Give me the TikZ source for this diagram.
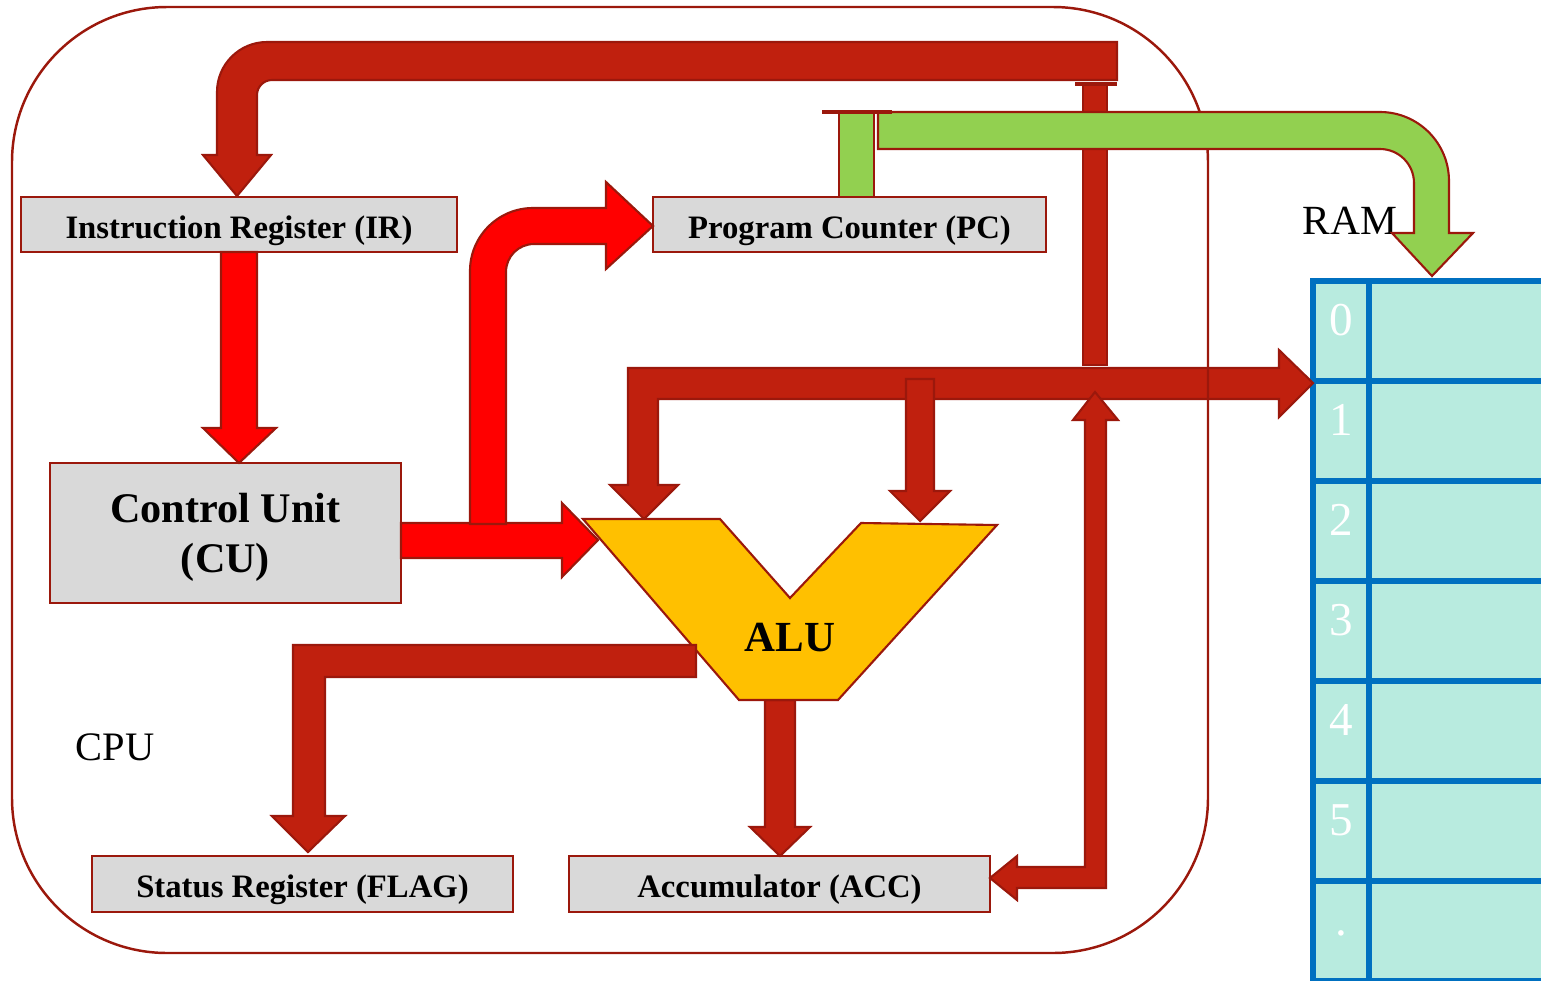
\documentclass[tikz,border=0pt]{standalone}
\usepackage{fontspec}
\setmainfont{Liberation Serif}
\usetikzlibrary{positioning}
\definecolor{busred}{RGB}{192,32,14}
\definecolor{linered}{RGB}{155,24,12}
\definecolor{ctrlred}{RGB}{255,0,0}
\definecolor{pcgreen}{RGB}{146,208,80}
\definecolor{alugold}{RGB}{255,192,0}
\definecolor{boxgray}{RGB}{217,217,217}
\definecolor{ramcell}{RGB}{184,235,223}
\definecolor{ramblue}{RGB}{0,112,192}

\begin{document}
\begin{tikzpicture}[x=0.01cm, y=-0.01cm,
    register/.style={rectangle, draw=linered, fill=boxgray, line width=0.7pt, minimum height=0.55cm, inner sep=0pt, text height=9.7pt, text depth=2pt, font=\fontsize{9.3}{11}\selectfont\bfseries},
    datapath/.style={fill=busred, draw=linered, line width=0.6pt},
    ctrlpath/.style={fill=ctrlred, draw=linered, line width=0.6pt},
    addrpath/.style={fill=pcgreen, draw=linered, line width=0.6pt},
    cellnum/.style={text=white, font=\fontsize{13.4}{14}\selectfont, anchor=base}
]
\useasboundingbox (0,0) rectangle (1541,981);
\clip (0,0) rectangle (1541,981);

\fill[ramcell] (1313,281) rectangle (1560,1000);
\foreach \r in {0,...,7}
    \draw[ramblue, line width=1.8pt] (1310,{281+100*\r}) -- (1560,{281+100*\r});
\draw[ramblue, line width=1.8pt] (1313,278) -- (1313,1000) (1369,278) -- (1369,1000);
\foreach \d in {0,...,5}
    \node[cellnum] (cell\d) at (1341,{335+100*\d}) {\d};
\node[cellnum] (cellmore) at (1341,935) {.};

\node[register, minimum width=4.36cm] (ir) at (239,224.5) {Instruction Register (IR)};
\node[register, minimum width=3.93cm] (pc) at (849.5,224.5) {Program Counter (PC)};
\node[register, minimum width=3.51cm, minimum height=1.40cm, align=center, text height=24.8pt, text depth=2.6pt, font=\fontsize{12}{14.2}\selectfont\bfseries] (cu) at (225.5,533) {Control Unit\\(CU)};
\node[register, minimum width=4.21cm, minimum height=0.56cm] (flag) at (302.5,884) {Status Register (FLAG)};
\node[register, minimum width=4.21cm, minimum height=0.56cm] (acc) at (779.5,884) {Accumulator (ACC)};

\draw[datapath] (1117,42) -- (267,42) .. controls (239.4,42) and (217,64.4) .. (217,92) -- (217,155) -- (203,155) -- (237,196) -- (271,155) -- (257,155) -- (257,95) .. controls (257,86.7) and (263.7,80) .. (272,80) -- (1117,80) -- cycle;
\draw[datapath] (1083,84) rectangle (1107,365);
\draw[linered, line width=1pt] (1075,84) -- (1117,84);
\draw[datapath] (644,519) -- (678,485) -- (658,485) -- (658,399) -- (1279,399) -- (1279,417) -- (1313,383) -- (1279,350) -- (1279,368) -- (628,368) -- (628,485) -- (610,485) -- cycle;
\draw[datapath] (906,379) -- (934,379) -- (934,491) -- (950,491) -- (920,521) -- (890,491) -- (906,491) -- cycle;
\draw[datapath] (1095,392) -- (1118,420) -- (1106,420) -- (1106,888) -- (1017,888) -- (1017,900) -- (990,878) -- (1017,856) -- (1017,867) -- (1085,867) -- (1085,420) -- (1073,420) -- cycle;
\draw[datapath] (765,700) -- (795,700) -- (795,827) -- (810,827) -- (780,856) -- (750,827) -- (765,827) -- cycle;

\draw[fill=alugold, draw=linered, line width=0.6pt] (583,519) -- (720,519) -- (790,598) -- (861,523) -- (997,525) -- (838,700) -- (739,700) -- cycle;
\draw[datapath] (696,645) -- (293,645) -- (293,816) -- (272,816) -- (308,852) -- (345,816) -- (325,816) -- (325,677) -- (696,677) -- cycle;
\node[font=\fontsize{12.2}{14}\selectfont\bfseries] (alu) at (790,638) {ALU};

\draw[ctrlpath] (221,252) -- (257,252) -- (257,428) -- (276,428) -- (239,463) -- (203,428) -- (221,428) -- cycle;
\draw[ctrlpath] (401,523) -- (562,523) -- (562,503) -- (598,540) -- (562,577) -- (562,558) -- (401,558) -- cycle;
\draw[ctrlpath] (470,524) -- (470,271) .. controls (470,236.2) and (498.2,208) .. (533,208) -- (606,208) -- (606,182) -- (653,226) -- (606,269) -- (606,244) -- (534,244) .. controls (518.5,244) and (506,256.5) .. (506,272) -- (506,524) -- cycle;

\draw[linered, line width=0.7pt, rounded corners=1.55cm] (12,7) rectangle (1208,953);
\node[anchor=base west, font=\fontsize{11.5}{13}\selectfont, inner sep=0pt] (cpu) at (75,760) {CPU};
\node[anchor=base west, font=\fontsize{11.8}{13}\selectfont, inner sep=0pt] (ram) at (1302,234) {RAM};

\draw[addrpath] (878,112) -- (1380,112) .. controls (1418.1,112) and (1449,142.9) .. (1449,181) -- (1449,233) -- (1473,233) -- (1432,276) -- (1392,233) -- (1414,233) -- (1414,183) .. controls (1414,164.2) and (1398.8,149) .. (1380,149) -- (878,149) -- cycle;
\draw[addrpath] (839,112) rectangle (874,197);
\draw[linered, line width=1pt] (822,112) -- (892,112);
\end{tikzpicture}
\end{document}
